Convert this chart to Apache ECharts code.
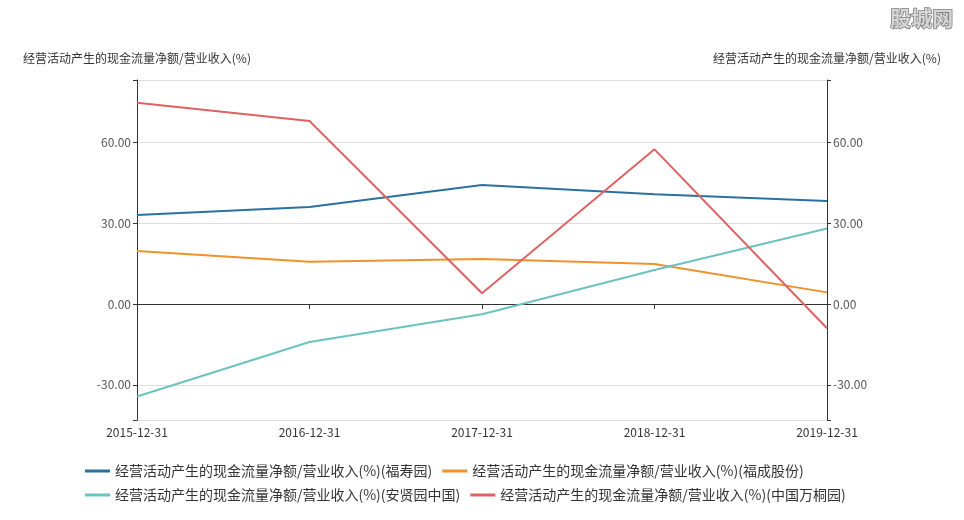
<!DOCTYPE html>
<html>
<head>
<meta charset="utf-8">
<title>经营活动产生的现金流量净额/营业收入</title>
<script src="https://cdn.jsdelivr.net/npm/echarts@6/dist/echarts.min.js"></script>
<style>
  html, body { margin: 0; padding: 0; background: #fff; }
  #chart { width: 964px; height: 520px; }
</style>
</head>
<body>
<div id="chart"></div>
<script>
  // 报告期
  var categories = ['2015-12-31', '2016-12-31', '2017-12-31', '2018-12-31', '2019-12-31'];
  var axisName = '经营活动产生的现金流量净额/营业收入(%)';

  // 各公司数值 (%)
  var fuShouYuan = [33.0, 35.9, 44.1, 40.7, 38.2];
  var fuChengGuFen = [19.6, 15.6, 16.7, 14.8, 4.3];
  var anXianYuan = [-34.3, -14.1, -3.8, 12.6, 28.0];
  var wanTongYuan = [74.6, 67.8, 4.0, 57.3, -9.0];

  var seriesNames = [
    axisName + '(福寿园)',
    axisName + '(福成股份)',
    axisName + '(安贤园中国)',
    axisName + '(中国万桐园)'
  ];
  var seriesData = [fuShouYuan, fuChengGuFen, anXianYuan, wanTongYuan];
  var colors = ['#2a71a0', '#f0922b', '#6cc2c0', '#df6262'];

  // 纵轴范围
  var yMin = -43;
  var yMax = 83;

  var font = '"Noto Sans CJK SC", "Noto Sans", sans-serif';

  // 只显示30的倍数
  function yLabel(v) {
    if (Math.abs(v % 30) > 1e-6) return '';
    return v.toFixed(2);
  }

  function yAxis(pos) {
    return {
      type: 'value',
      position: pos,
      min: yMin,
      max: yMax,
      name: axisName,
      nameGap: 16,
      nameTextStyle: { color: '#333', fontSize: 12, fontFamily: font },
      axisLine: { show: true, lineStyle: { color: '#333', width: 1 } },
      axisTick: { show: true, length: 4, lineStyle: { color: '#333' } },
      axisLabel: { color: '#555', fontSize: 12, fontFamily: font, margin: 6, formatter: yLabel },
      splitLine: { show: pos === 'left', lineStyle: { color: '#dedede' } }
    };
  }

  var myChart = echarts.init(document.getElementById('chart'));

  myChart.setOption({
    color: colors,
    animation: false,
    textStyle: { fontFamily: font },
    grid: { left: 137, right: 137, top: 80, bottom: 100 },
    graphic: [{
      type: 'text',
      right: 10,
      top: 7,
      style: {
        text: '股城网',
        font: 'bold 21px ' + font,
        fill: '#d6d6d6',
        stroke: '#7a7a7a',
        lineWidth: 1.5
      }
    }],
    legend: {
      left: 80,
      top: 459,
      width: 780,
      itemGap: 10,
      itemWidth: 25,
      itemHeight: 3,
      icon: 'rect',
      textStyle: { color: '#333', fontSize: 14, fontFamily: font },
      data: seriesNames
    },
    xAxis: [
      {
        type: 'category',
        data: categories,
        boundaryGap: false,
        position: 'bottom',
        axisLine: { show: false, onZero: false },
        axisTick: { show: false },
        axisLabel: { color: '#333', fontSize: 12, fontFamily: font, margin: 6 },
        splitLine: { show: false }
      },
      {
        // 零线
        type: 'category',
        data: categories,
        boundaryGap: false,
        position: 'bottom',
        axisLine: { show: true, onZero: true, lineStyle: { color: '#333', width: 1 } },
        axisTick: { show: true, length: 5, lineStyle: { color: '#333' } },
        axisLabel: { show: false },
        splitLine: { show: false }
      }
    ],
    yAxis: [yAxis('left'), yAxis('right')],
    series: seriesData.map(function (d, i) {
      return {
        name: seriesNames[i],
        type: 'line',
        data: d,
        xAxisIndex: 0,
        yAxisIndex: 0,
        symbol: 'none',
        lineStyle: { width: 2, color: colors[i] }
      };
    })
  });
</script>
</body>
</html>
